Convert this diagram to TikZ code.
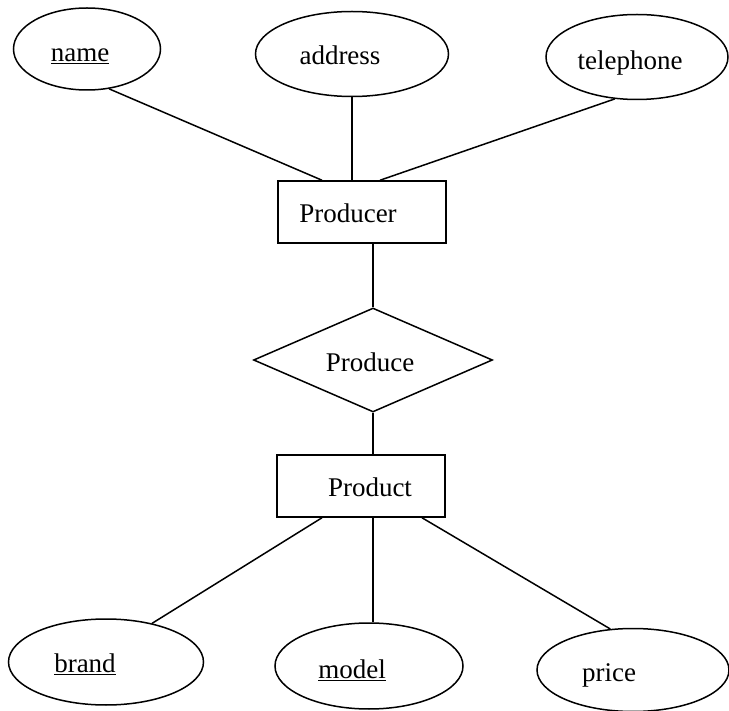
\documentclass[tikz,border=0pt]{standalone}
\usepackage{fontspec}
\setmainfont{Liberation Serif}
\usetikzlibrary{shapes.geometric}

\begin{document}
\begin{tikzpicture}[x=1pt,y=-1pt,
  every node/.style={font=\fontsize{27}{32}\selectfont},
  attr/.style={draw,ellipse,line width=1.5pt,inner sep=0pt},
  entity/.style={draw,rectangle,line width=1.5pt,inner sep=0pt,minimum width=168pt,minimum height=62pt},
  relation/.style={draw,diamond,aspect=2.3,line width=1.5pt,inner sep=0pt,minimum width=239pt,minimum height=104pt},
  link/.style={line width=1.5pt}]
\useasboundingbox (0,0) rectangle (729,711);

% Producer and its attributes
\node[entity,label={[shift={(-14,1)}]center:Producer}] (producer) at (362,212) {};
\node[attr,minimum width=147pt,minimum height=82pt,label={[shift={(-7,7)}]center:\underline{name}}] (name) at (87,49) {};
\node[attr,minimum width=193pt,minimum height=85pt,label={[shift={(-12,1)}]center:address}] (address) at (352,54) {};
\node[attr,minimum width=182pt,minimum height=85pt,label={[shift={(-7,6)}]center:telephone}] (telephone) at (637,57) {};

\draw[link] (name.-61) -- ([xshift=-40pt]producer.north);
\draw[link] (address.south) -- (address.south |- producer.north);
\draw[link] (telephone.-118) -- ([xshift=18pt]producer.north);

% Relationship
\node[relation,label={[shift={(-3,2)}]center:Produce}] (produce) at (373,360) {};
\draw[link] (produce.north |- producer.south) -- (produce.north);

% Product and its attributes
\node[entity,label={[shift={(9,1)}]center:Product}] (product) at (361,486) {};
\node[attr,minimum width=195pt,minimum height=86pt,label={[shift={(-21,2)}]center:\underline{brand}}] (brand) at (106,662) {};
\node[attr,minimum width=188pt,minimum height=86pt,label={[shift={(-17,4)}]center:\underline{model}}] (model) at (369,666) {};
\node[attr,minimum width=192pt,minimum height=83pt,label={[shift={(-24,5)}]center:price}] (price) at (633,670) {};

\draw[link] (produce.south) -- (produce.south |- product.north);
\draw[link] ([xshift=-39pt]product.south) -- (brand.40);
\draw[link] (produce.south |- product.south) -- (produce.south |- model.north);
\draw[link] ([xshift=61pt]product.south) -- (price.119);
\end{tikzpicture}
\end{document}
